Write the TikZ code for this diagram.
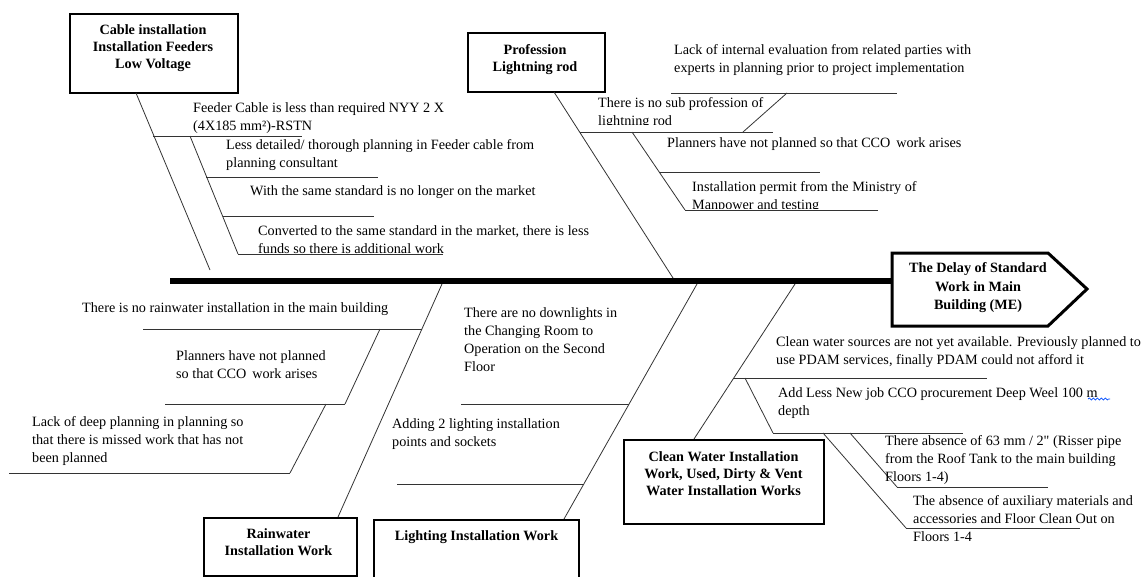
\documentclass[tikz,border=0pt]{standalone}
\usepackage{fontspec}
\setmainfont{Liberation Serif}
\usetikzlibrary{calc,decorations.pathmorphing}
\begin{document}
\begin{tikzpicture}[x=1pt,y=-1pt,
  bone/.style={draw=black!80, line width=0.8pt},
  spine/.style={draw=black, line width=6pt},
  lbl/.style={anchor=north west, inner sep=0pt, align=left, font=\fontsize{14.2}{18}\selectfont},
  boxframe/.style={draw=black, line width=2pt, inner sep=0pt, fill=white},
  boxtxt/.style={anchor=north, inner sep=0pt, align=center, font=\fontsize{14.2}{17}\selectfont\bfseries},
  headtxt/.style={anchor=north, inner sep=0pt, align=center, font=\fontsize{14.2}{18.5}\selectfont\bfseries},
]
\useasboundingbox (0,0) rectangle (1147,576);
\clip (0,0) rectangle (1147,576);

% ---------- spine and head ----------
\coordinate (spL) at (170,281);
\coordinate (headL) at (892,281);
\draw[spine] (spL) -- (headL);
\draw[line width=3pt, line join=miter, fill=white] (892,253) -- (1048,253) -- (1087,289) -- (1048,326) -- (892,326) -- cycle;
\node[headtxt] (head) at (978,259.5) {\strut The Delay of Standard\\Work in Main\\Building (ME)};

% ---------- boxes ----------
\node[boxframe, minimum width=168pt, minimum height=79pt, anchor=north west] (cable) at (69,13) {};
\node[boxtxt] (cablet) at (153,22.6) {\strut Cable installation\\Installation Feeders\\Low Voltage};
\node[boxframe, minimum width=137pt, minimum height=59pt, anchor=north west] (prof) at (467,32) {};
\node[boxtxt] (proft) at (535,42.6) {\strut Profession\\Lightning rod};
\node[boxframe, minimum width=153pt, minimum height=58pt, anchor=north west] (rain) at (203,517) {};
\node[boxtxt] (raint) at (278.5,526.6) {\strut Rainwater\\Installation Work};
\node[boxframe, minimum width=205pt, minimum height=90pt, anchor=north west] (light) at (373,519) {};
\node[boxtxt] (lightt) at (476.5,528.6) {\strut Lighting Installation Work};
\node[boxframe, minimum width=200pt, minimum height=84pt, anchor=north west] (clean) at (623,439) {};
\node[boxtxt] (cleant) at (723.5,449.6) {\strut Clean Water Installation\\Work, Used, Dirty \& Vent\\Water Installation Works};

% ---------- Cable branch ----------
\coordinate (c0) at (136,93);
\coordinate (c1) at (210,270);
\draw[bone] (c0) -- (c1);
\coordinate (h1a) at (153,136); \coordinate (h1b) at (302,136);
\draw[bone] (h1a) -- (h1b);
\coordinate (s1a) at (190,136); \coordinate (s1b) at (238,254);
\draw[bone] (s1a) -- (s1b);
\coordinate (h2a) at (206,177); \coordinate (h2b) at (378,177);
\draw[bone] (h2a) -- (h2b);
\coordinate (h3a) at (223,216); \coordinate (h3b) at (374,216);
\draw[bone] (h3a) -- (h3b);
\coordinate (h4a) at (238,254); \coordinate (h4b) at (443,254);
\draw[bone] (h4a) -- (h4b);
\node[lbl] (t1) at (193,99.9) {\strut Feeder Cable is less than required NYY 2 X\\(4X185 mm²)-RSTN};
\node[lbl] (t2) at (226,136.9) {\strut Less detailed/ thorough planning in Feeder cable from\\planning consultant};
\node[lbl] (t3) at (250,182.9) {\strut With the same standard is no longer on the market};
\node[lbl] (t4) at (258,222.9) {\strut Converted to the same standard in the market, there is less\\funds so there is additional work};

% ---------- Profession branch ----------
\coordinate (p0) at (554,92);
\coordinate (p1) at (673,278);
\draw[bone] (p0) -- (p1);
\coordinate (h5a) at (580,132); \coordinate (h5b) at (773,132);
\draw[bone] (h5a) -- (h5b);
\coordinate (u1a) at (743,132); \coordinate (u1b) at (787,93);
\draw[bone] (u1a) -- (u1b);
\coordinate (h6a) at (671,93); \coordinate (h6b) at (897,93);
\draw[bone] (h6a) -- (h6b);
\coordinate (s2a) at (632,132); \coordinate (s2b) at (685,210);
\draw[bone] (s2a) -- (s2b);
\coordinate (h7a) at (659,172); \coordinate (h7b) at (820,172);
\draw[bone] (h7a) -- (h7b);
\coordinate (h8a) at (685,210); \coordinate (h8b) at (878,210);
\draw[bone] (h8a) -- (h8b);
\node[lbl] (t5) at (674,41.9) {\strut Lack of internal evaluation from related parties with\\experts in planning prior to project implementation};
\begin{scope}
\clip (590,85) rectangle (775,124);
\node[lbl] (t6) at (598,94.9) {\strut There is no sub profession of\\lightning rod};
\end{scope}
\node[lbl] (t7) at (667,134.9) {\strut Planners have not planned so that CCO\, work arises};
\begin{scope}
\clip (685,170) rectangle (920,208);
\node[lbl] (t8) at (692,178.9) {\strut Installation permit from the Ministry of\\Manpower and testing};
\end{scope}

% ---------- Rainwater branch ----------
\coordinate (r0) at (442,284);
\coordinate (r1) at (338,517);
\draw[bone] (r0) -- (r1);
\coordinate (h9a) at (143,329); \coordinate (h9b) at (422,329);
\draw[bone] (h9a) -- (h9b);
\coordinate (s3a) at (380,329); \coordinate (s3b) at (345,404);
\draw[bone] (s3a) -- (s3b);
\coordinate (h10a) at (165,404); \coordinate (h10b) at (345,404);
\draw[bone] (h10a) -- (h10b);
\coordinate (s4a) at (326,404); \coordinate (s4b) at (290,473);
\draw[bone] (s4a) -- (s4b);
\coordinate (h11a) at (9,473); \coordinate (h11b) at (290,473);
\draw[bone] (h11a) -- (h11b);
\node[lbl] (t9) at (82,299.9) {\strut There is no rainwater installation in the main building};
\node[lbl] (t10) at (176,347.9) {\strut Planners have not planned\\so that CCO\, work arises};
\node[lbl] (t11) at (32,413.9) {\strut Lack of deep planning in planning so\\that there is missed work that has not\\been planned};

% ---------- Lighting branch ----------
\coordinate (l0) at (697,284);
\coordinate (l1) at (564,519);
\draw[bone] (l0) -- (l1);
\coordinate (h12a) at (461,404); \coordinate (h12b) at (629,404);
\draw[bone] (h12a) -- (h12b);
\coordinate (h13a) at (397,484); \coordinate (h13b) at (583,484);
\draw[bone] (h13a) -- (h13b);
\node[lbl] (t12) at (464,304.9) {\strut There are no downlights in\\the Changing Room to\\Operation on the Second\\Floor};
\node[lbl] (t13) at (392,415.9) {\strut Adding 2 lighting installation\\points and sockets};

% ---------- Clean water branch ----------
\coordinate (w0) at (795,284);
\coordinate (w1) at (694,439);
\draw[bone] (w0) -- (w1);
\coordinate (h14a) at (734,378); \coordinate (h14b) at (987,378);
\draw[bone] (h14a) -- (h14b);
\coordinate (s5a) at (745,378); \coordinate (s5b) at (773,433);
\draw[bone] (s5a) -- (s5b);
\coordinate (h15a) at (773,433); \coordinate (h15b) at (963,433);
\draw[bone] (h15a) -- (h15b);
\coordinate (s6a) at (823,433); \coordinate (s6b) at (906,528);
\draw[bone] (s6a) -- (s6b);
\coordinate (s7a) at (850,433); \coordinate (s7b) at (897,487);
\draw[bone] (s7a) -- (s7b);
\coordinate (h16a) at (897,487); \coordinate (h16b) at (1048,487);
\draw[bone] (h16a) -- (h16b);
\coordinate (h17a) at (906,528); \coordinate (h17b) at (1080,528);
\draw[bone] (h17a) -- (h17b);
\node[lbl] (t14) at (776,333.9) {\strut Clean water sources are not yet available. Previously planned to\\use PDAM services, finally PDAM could not afford it};
\node[lbl] (t15) at (778,384.9) {\strut Add Less New job CCO procurement Deep Weel 100 m\\depth};
\coordinate (wv1) at (1088,399); \coordinate (wv2) at (1110,399);
\draw[blue!70!cyan, line width=0.7pt, decorate, decoration={snake, amplitude=1pt, segment length=4pt}] (wv1) -- (wv2);
\node[lbl] (t16) at (885,432.9) {\strut There absence of 63 mm / 2\textquotedbl{} (Risser pipe\\from the Roof Tank to the main building\\Floors 1-4)};
\node[lbl] (t17) at (913,492.9) {\strut The absence of auxiliary materials and\\accessories and Floor Clean Out on\\Floors 1-4};
\end{tikzpicture}
\end{document}
